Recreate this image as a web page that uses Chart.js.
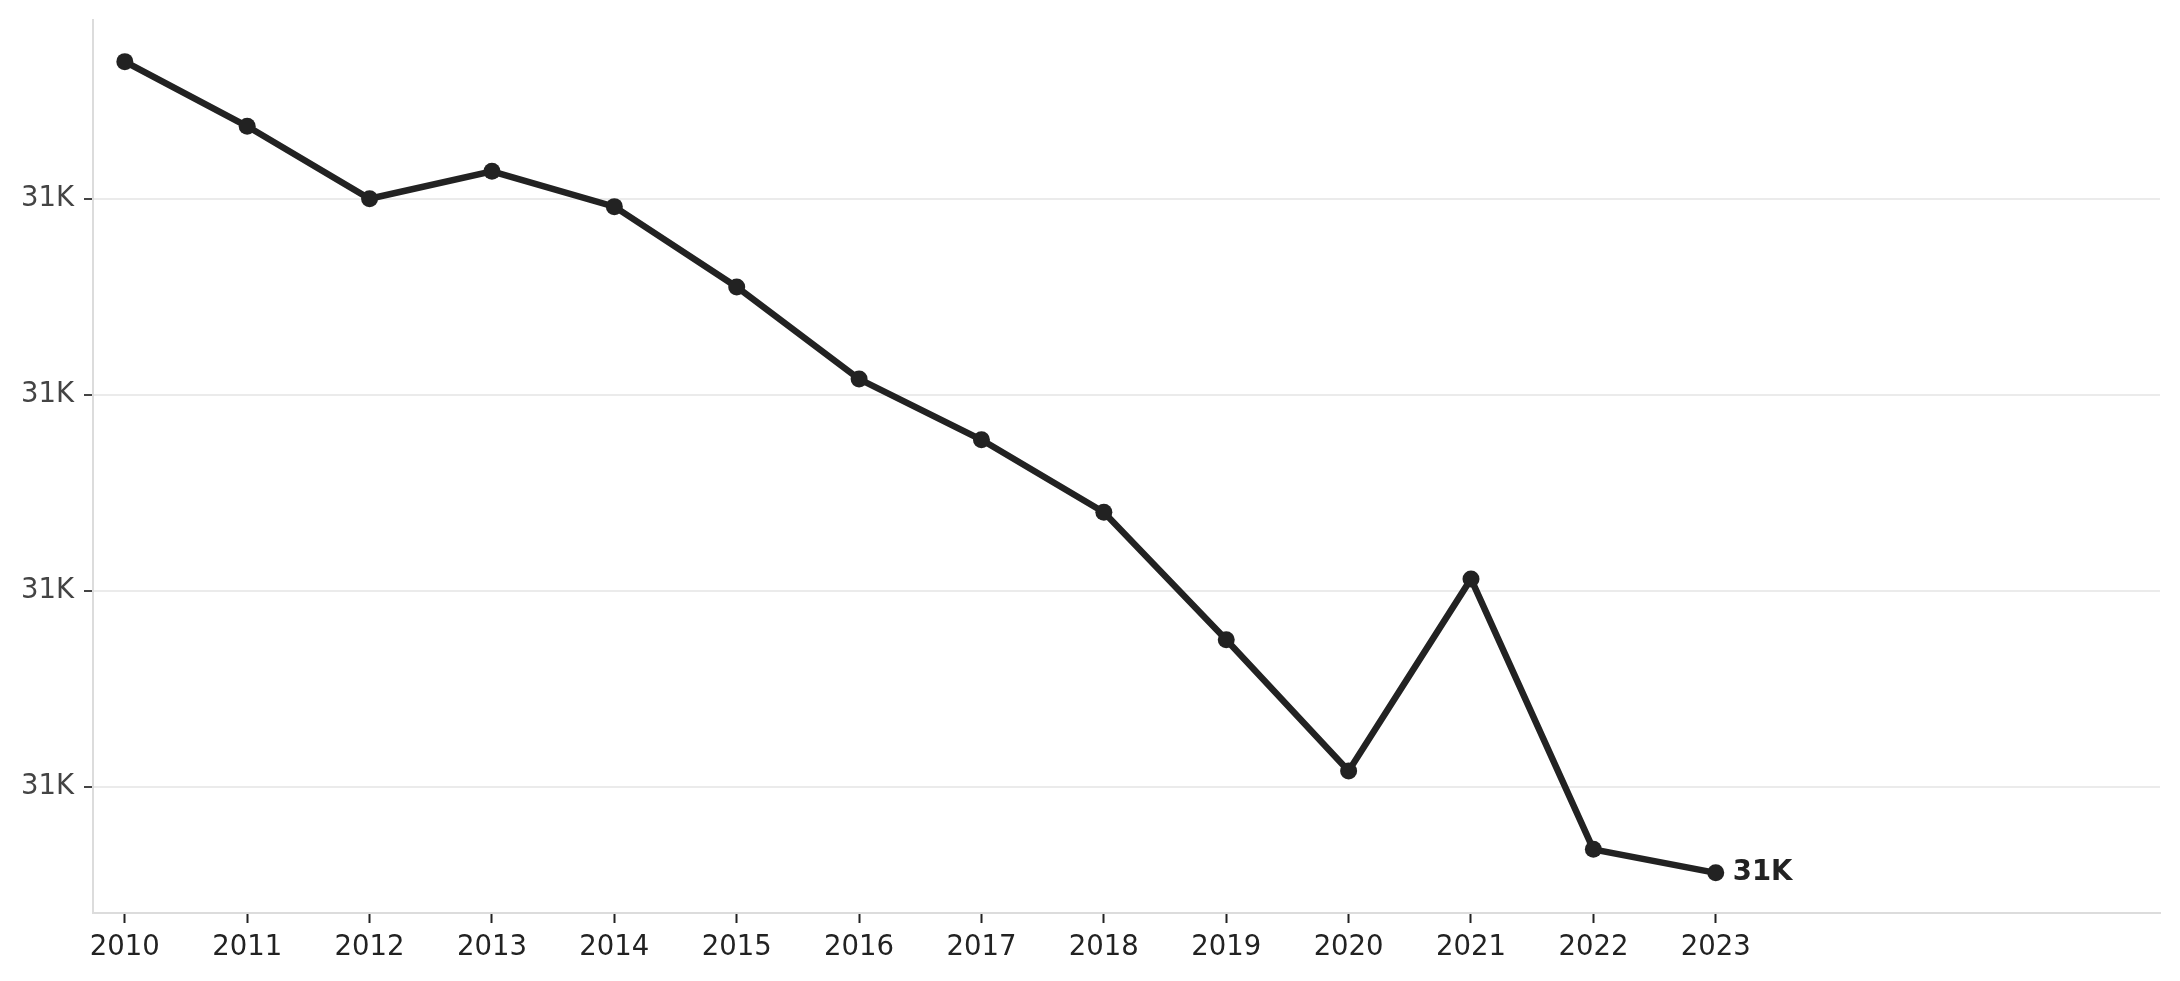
<!DOCTYPE html>
<html>
<head>
<meta charset="utf-8">
<title>Yearly trend</title>
<script src="https://cdn.jsdelivr.net/npm/chart.js@4/dist/chart.umd.min.js"></script>
<style>
  html, body { margin: 0; padding: 0; background: #fff; }
  #wrap { width: 2180px; height: 981px; position: relative; }
</style>
</head>
<body>
<div id="wrap"><canvas id="trendChart" width="2180" height="981"></canvas></div>
<script>
/* =============================================
   Line chart — yearly values 2010–2023
   ============================================= */

var years  = [2010, 2011, 2012, 2013, 2014, 2015, 2016, 2017, 2018, 2019, 2020, 2021, 2022, 2023];
var values = [31470, 31437, 31400, 31414, 31396, 31355, 31308, 31277, 31240, 31175, 31108, 31206, 31068, 31056];
var yTicks = [31100, 31200, 31300, 31400];

var INK  = '#222222';
var FONT = "'DejaVu Sans', sans-serif";

function fmtK(v) {
  return (v / 1000).toFixed(0) + 'K';
}

// bold value label to the right of the last point
var endLabel = {
  id: 'endLabel',
  afterDatasetsDraw: function(chart) {
    var xs = chart.scales.x, ys = chart.scales.y;
    var i = years.length - 1;
    var ctx = chart.ctx;
    ctx.save();
    ctx.font = 'bold 27.5px ' + FONT;
    ctx.fillStyle = INK;
    ctx.textAlign = 'left';
    ctx.textBaseline = 'middle';
    ctx.fillText(fmtK(values[i]), xs.getPixelForValue(years[i]) + 17, ys.getPixelForValue(values[i]));
    ctx.restore();
  }
};

var points = years.map(function(y, i) { return { x: y, y: values[i] }; });

new Chart(document.getElementById('trendChart'), {
  type: 'line',
  data: {
    datasets: [{
      data: points,
      borderColor: INK,
      backgroundColor: INK,
      borderWidth: 6.5,
      pointRadius: 8.5,
      pointBorderWidth: 0,
      pointBackgroundColor: INK,
      tension: 0,
      clip: false
    }]
  },
  options: {
    responsive: false,
    animation: false,
    events: [],
    layout: { padding: { top: 19.5, right: 20, left: 0, bottom: 0 } },
    plugins: { legend: { display: false }, tooltip: { enabled: false } },
    scales: {
      x: {
        type: 'linear',
        min: 2009.74,
        max: 2026.63,
        afterBuildTicks: function(s) { s.ticks = years.map(function(y) { return { value: y }; }); },
        afterFit: function(s) { s.height = 68; s.paddingLeft = 0; s.paddingRight = 0; },
        border: { display: true, color: '#dcdcdc', width: 2 },
        grid: { drawOnChartArea: false, drawTicks: true, tickLength: 10, tickColor: INK, tickWidth: 2 },
        ticks: {
          autoSkip: false, maxRotation: 0, padding: 8,
          color: INK,
          font: { family: FONT, size: 27.5 },
          callback: function(v) { return String(v); }
        }
      },
      y: {
        min: 31035.5,
        max: 31491.5,
        afterBuildTicks: function(s) { s.ticks = yTicks.map(function(v) { return { value: v }; }); },
        afterFit: function(s) { s.width = 93; s.paddingTop = 0; s.paddingBottom = 0; },
        border: { display: true, color: '#dcdcdc', width: 2 },
        grid: { color: '#ebebeb', lineWidth: 2, drawTicks: true, tickLength: 9, tickColor: '#444444', tickWidth: 2 },
        ticks: {
          padding: 10,
          color: '#444444',
          font: { family: FONT, size: 27.5 },
          callback: function(v) { return fmtK(v); }
        }
      }
    }
  },
  plugins: [endLabel]
});
</script>
</body>
</html>
